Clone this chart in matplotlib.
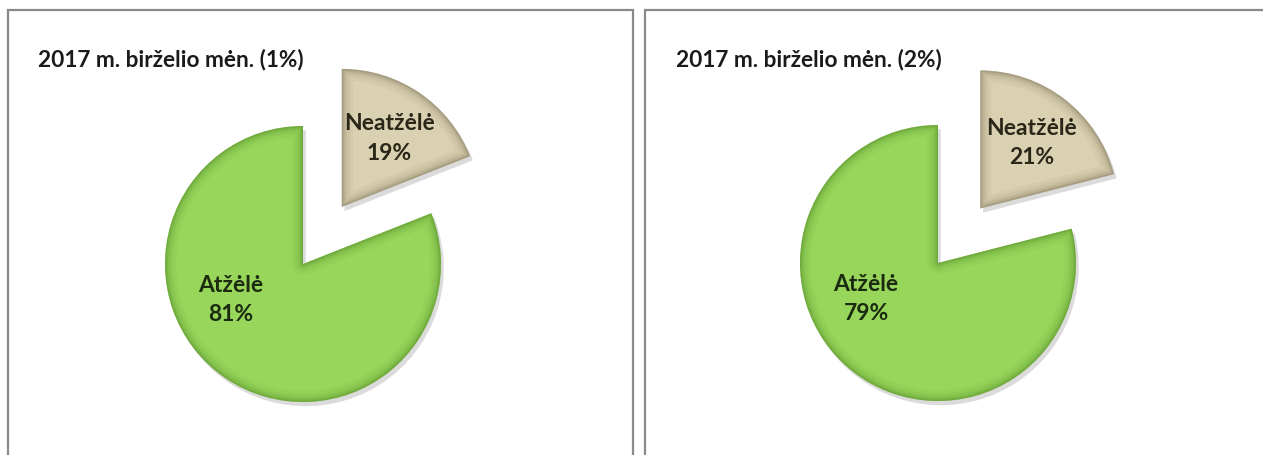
import math

import matplotlib

matplotlib.use("Agg")
import matplotlib.pyplot as plt
from matplotlib import patheffects
from matplotlib.patches import PathPatch, Rectangle

plt.rcParams["font.family"] = ["Lato", "DejaVu Sans"]

# Survey results: share of seedlings that did / did not sprout
CATEGORIES = ["Neatžėlė", "Atžėlė"]
TITLES = ["2017 m. birželio mėn. (1%)", "2017 m. birželio mėn. (2%)"]
SHARES_1PCT = [19, 81]
SHARES_2PCT = [21, 79]

FILL = {"Neatžėlė": "#d9d1b2", "Atžėlė": "#98d65b"}
BEVEL = {"Neatžėlė": "#6f664a", "Atžėlė": "#467d1c"}
TEXT_COLOR = {"Neatžėlė": "#2a2718", "Atžėlė": "#1b2b10"}

W, H = 1263, 456


def flip(y):
    """Pixel row (top-down) -> axes y (bottom-up)."""
    return H - y


def bevel(ax, wedge, name):
    # darker rim fading inward, clipped to the wedge itself
    for lw, a in [(16, 0.06), (11, 0.08), (7, 0.11), (4, 0.15), (2, 0.2)]:
        rim = PathPatch(wedge.get_path(), transform=ax.transData, fill=False,
                        edgecolor=BEVEL[name], linewidth=lw, alpha=a,
                        joinstyle="round")
        rim.set_clip_path(wedge)
        ax.add_patch(rim)


def draw_panel(ax, shares, title, center, radius, title_xy):
    cx, cy = center
    wedges, _ = ax.pie(
        shares,
        explode=[0.5 * radius, 0],
        startangle=90,
        counterclock=False,
        radius=radius,
        center=(cx, flip(cy)),
        colors=[FILL[c] for c in CATEGORIES],
        wedgeprops=dict(linewidth=0),
        frame=True,
    )
    for w, name in zip(wedges, CATEGORIES):
        w.set_path_effects([
            patheffects.SimplePatchShadow(offset=(2, -3), shadow_rgbFace="#9a9a9a",
                                          alpha=0.35),
            patheffects.Normal(),
        ])
        bevel(ax, w, name)

    # small slice: label on its bisector; big slice: label to the lower left
    small, big = wedges
    mid = math.radians((small.theta1 + small.theta2) / 2)
    ox, oy = small.center
    ax.text(ox + 0.61 * radius * math.cos(mid), oy + 0.61 * radius * math.sin(mid),
            f"{CATEGORIES[0]}\n{shares[0]}%", ha="center", va="center",
            fontsize=16.5, fontweight="bold", color=TEXT_COLOR[CATEGORIES[0]],
            linespacing=1.5)
    ang = math.radians(206)
    bx, by = big.center
    ax.text(bx + 0.58 * radius * math.cos(ang), by + 0.58 * radius * math.sin(ang),
            f"{CATEGORIES[1]}\n{shares[1]}%", ha="center", va="center",
            fontsize=16.5, fontweight="bold", color=TEXT_COLOR[CATEGORIES[1]],
            linespacing=1.5)

    ax.text(title_xy[0], flip(title_xy[1]), title, ha="left", va="center",
            fontsize=16.3, fontweight="bold", color="#1a1a1a")


fig = plt.figure(figsize=(W / 100, H / 100), dpi=100)
ax = fig.add_axes([0, 0, 1, 1])

# panel frames (they run past the bottom edge)
ax.add_patch(Rectangle((8, -20), 625, flip(11) + 20, fill=False,
                       edgecolor="#8a8a8a", linewidth=1.6))
ax.add_patch(Rectangle((645, -20), 700, flip(11) + 20, fill=False,
                       edgecolor="#8a8a8a", linewidth=1.6))

draw_panel(ax, SHARES_1PCT, TITLES[0], (303, 265), 138, (38, 59))
draw_panel(ax, SHARES_2PCT, TITLES[1], (938, 264), 138, (676, 59))

ax.set_xlim(0, W)
ax.set_ylim(0, H)
ax.set_aspect("equal")
ax.axis("off")

fig.savefig("out.png", dpi=100, facecolor="white")
